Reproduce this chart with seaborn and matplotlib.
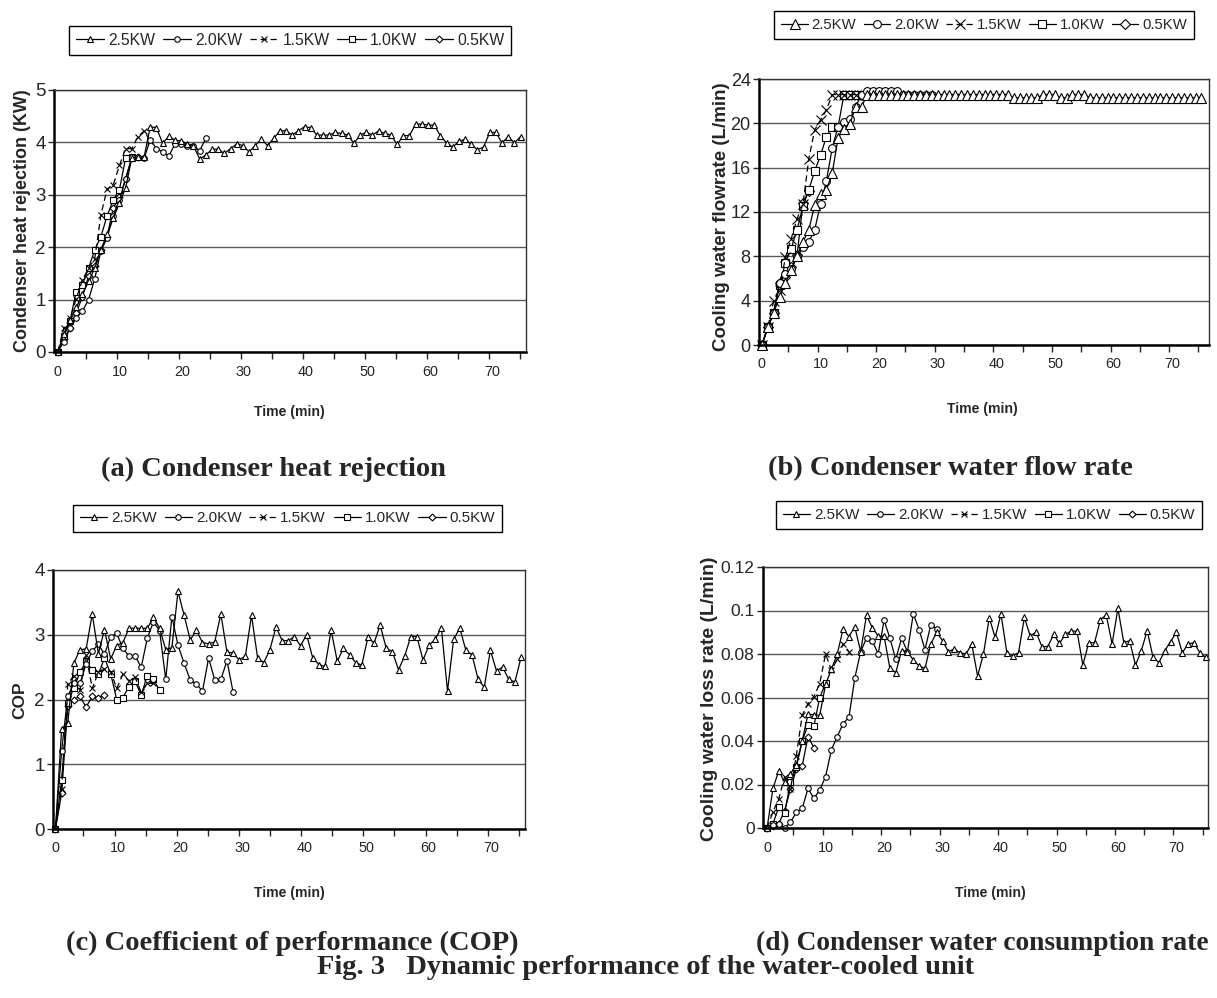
import numpy as np
import pandas as pd
import matplotlib
matplotlib.use("Agg")
import matplotlib.pyplot as plt
import seaborn as sns
from matplotlib import font_manager as fm

# ---------------- data ----------------
series_labels = ["2.5KW", "2.0KW", "1.5KW", "1.0KW", "0.5KW"]

# sampling interval (min) of each panel's records
dt_heat, dt_flow, dt_cop, dt_loss = 0.995, 1.0, 0.985, 1.0

# (a) condenser heat rejection (KW)
heat_25 = [0, 0.35, 0.62, 0.85, 1.10, 1.35, 1.60, 1.95, 2.25, 2.55, 2.84, 3.13, 3.70, 3.72, 3.72,
           4.30, 4.28, 3.98, 4.12, 4.04, 4.03, 3.97, 3.94, 3.68, 3.76, 3.87, 3.87, 3.79, 3.88, 3.97,
           3.94, 3.82, 3.94, 4.06, 3.94, 4.08, 4.22, 4.22, 4.14, 4.22, 4.30, 4.28, 4.14, 4.14, 4.14,
           4.19, 4.17, 4.14, 3.98, 4.14, 4.19, 4.14, 4.22, 4.17, 4.14, 3.96,
           4.13, 4.13, 4.35, 4.35, 4.33, 4.33, 4.13, 3.99, 3.91, 4.02, 4.06, 3.96, 3.86, 3.91,
           4.19, 4.19, 3.99, 4.11, 3.99, 4.11]
heat_20 = [0, 0.20, 0.45, 0.65, 0.78, 1.00, 1.40, 1.93, 2.18, 2.60, 2.90, 3.30, 3.72, 3.72, 3.70,
           4.05, 3.88, 3.82, 3.74, 3.97, 3.97, 3.94, 3.94, 3.84, 4.08]
heat_15 = [0, 0.46, 0.64, 1.02, 1.37, 1.60, 1.78, 2.62, 3.11, 3.19, 3.56, 3.88, 3.88, 4.11, 4.22, 4.02]
heat_10 = [0, 0.30, 0.60, 1.15, 1.28, 1.60, 1.95, 2.20, 2.60, 2.90, 3.10, 3.70, 3.72]
heat_05 = [0, 0.25, 0.45, 0.75, 1.05, 1.45, 1.65, 1.95, 2.20, 2.75, 2.95, 3.30, 3.70, 3.72]

# (b) cooling water flow rate (L/min)
flow_25 = [0, 1.6, 2.9, 4.3, 5.6, 6.8, 8.0, 9.3, 10.4, 12.6, 13.6, 14.0, 15.5, 18.7, 19.5, 19.9, 21.5, 21.5,
           22.6, 22.6, 22.6, 22.6, 22.6, 22.6, 22.6, 22.6, 22.6, 22.6, 22.6, 22.6, 22.6, 22.6, 22.6,
           22.6, 22.6, 22.6, 22.6, 22.6, 22.6, 22.6, 22.6, 22.6, 22.6,
           22.3, 22.3, 22.3, 22.3, 22.3, 22.6, 22.6, 22.6, 22.3, 22.3, 22.6, 22.6, 22.6,
           22.3, 22.3, 22.3, 22.3, 22.3, 22.3, 22.3, 22.3, 22.3, 22.3, 22.3, 22.3, 22.3, 22.3,
           22.3, 22.3, 22.3, 22.3, 22.3, 22.3]
flow_20 = [0, 1.6, 2.9, 5.6, 6.4, 6.9, 7.9, 8.8, 9.3, 10.4, 12.7, 14.8, 17.8, 19.7, 20.1, 20.4, 21.5,
           22.6, 22.9, 22.9, 22.9, 22.9, 22.9, 22.9, 22.6, 22.6, 22.6, 22.6, 22.6, 22.6]
flow_15 = [0, 1.6, 3.95, 5.0, 7.9, 9.6, 11.4, 12.7, 16.8, 19.4, 20.3, 21.2, 22.6, 22.6, 22.6, 22.6, 22.6, 22.6]
flow_10 = [0, 1.6, 2.9, 5.4, 7.4, 8.7, 10.4, 12.5, 14.0, 15.7, 17.1, 18.8, 19.7, 19.7, 22.6, 22.6, 22.6, 22.6]
flow_05 = [0, 1.6, 2.9, 5.6, 6.1, 7.0, 8.1, 12.8, 13.9]

# (c) coefficient of performance
cop_25 = [0, 1.55, 1.63, 2.56, 2.77, 2.78, 3.32, 2.71, 3.08, 2.63, 2.83, 2.88, 3.10, 3.10, 3.10, 3.10,
          3.27, 3.10, 2.77, 2.80,
          3.67, 3.30, 2.92, 3.07, 2.88, 2.86, 2.89, 3.32, 2.73, 2.72, 2.61, 2.67, 3.30, 2.64, 2.57,
          2.77, 3.12, 2.91, 2.91, 2.97, 2.83, 3.00, 2.64, 2.54, 2.51, 3.07, 2.59, 2.79, 2.69, 2.57,
          2.53, 2.96, 2.87, 3.15, 2.79, 2.74, 2.46,
          2.67, 2.97, 2.97, 2.61, 2.84, 2.93, 3.11, 2.13, 2.93, 3.10, 2.76, 2.69, 2.31, 2.19, 2.76,
          2.44, 2.50, 2.31, 2.27, 2.65]
cop_20 = [0, 1.21, 2.05, 2.25, 2.25, 2.55, 2.75, 2.85, 2.70, 2.97, 3.02, 2.79, 2.67, 2.67, 2.50, 2.95,
          3.20, 3.06, 2.31, 3.28, 2.84, 2.56, 2.30, 2.24, 2.13, 2.64, 2.30, 2.31, 2.60, 2.11]
cop_15 = [0, 0.62, 2.24, 2.37, 2.15, 2.69, 2.17, 2.42, 2.47, 2.43, 2.17, 2.39, 2.29, 2.34, 2.11, 2.25, 2.25]
cop_10 = [0, 0.76, 1.95, 2.18, 2.42, 2.59, 2.45, 2.39, 2.64, 2.40, 2.00, 2.03, 2.20, 2.28, 2.07, 2.37, 2.31, 2.14]
cop_05 = [0, 0.55, 1.90, 2.00, 2.05, 1.88, 2.05, 2.02, 2.07]

# (d) cooling water loss rate (L/min)
loss_25 = [0, 0.0182, 0.0263, 0.021, 0.025, 0.029, 0.040, 0.0524, 0.052, 0.0518, 0.066, 0.073, 0.080,
           0.0915, 0.088, 0.0925, 0.0811, 0.0979, 0.092, 0.0883, 0.0883, 0.0734, 0.0714, 0.0815,
           0.0811, 0.0772, 0.0745, 0.0734, 0.0846, 0.090, 0.0861, 0.0811, 0.0823, 0.0806, 0.080,
           0.0846, 0.0699, 0.080, 0.0967, 0.0876, 0.0984, 0.0806, 0.0792, 0.0806, 0.0968, 0.0883,
           0.090, 0.0834, 0.0834, 0.089, 0.0849, 0.089, 0.0905, 0.0905, 0.0749, 0.0852, 0.0852,
           0.0958, 0.0979, 0.0846, 0.101, 0.0852, 0.0861, 0.0749, 0.0815, 0.0908, 0.0785, 0.076,
           0.0815, 0.0857, 0.090, 0.0806, 0.0846, 0.0852, 0.0806, 0.0785]
loss_20 = [0, 0.0015, 0.002, 0.0, 0.0026, 0.0073, 0.009, 0.0182, 0.0136, 0.0175, 0.0236, 0.036, 0.042,
           0.048, 0.051, 0.069, 0.081, 0.0873, 0.086, 0.080, 0.0955, 0.0873, 0.0775, 0.0873, 0.081,
           0.0985, 0.0912, 0.082, 0.0935, 0.0915]
loss_15 = [0, 0.0074, 0.0135, 0.0234, 0.018, 0.0333, 0.0518, 0.0572, 0.0604, 0.0664, 0.080, 0.0726,
           0.0775, 0.0846, 0.0811]
loss_10 = [0, 0.002, 0.0097, 0.007, 0.021, 0.028, 0.040, 0.0475, 0.0468, 0.060, 0.0665]
loss_05 = [0, 0.001, 0.002, 0.008, 0.018, 0.027, 0.0285, 0.042, 0.037]

heat_yticks = [0, 1, 2, 3, 4, 5]
flow_yticks = [0, 4, 8, 12, 16, 20, 24]
cop_yticks = [0, 1, 2, 3, 4]
loss_yticks = [0, 0.02, 0.04, 0.06, 0.08, 0.1, 0.12]
loss_yticklabels = ["0", "0.02", "0.04", "0.06", "0.08", "0.1", "0.12"]
xtick_labels = [0, 10, 20, 30, 40, 50, 60, 70]

# ---------------- style ----------------
sns.set_style("white")


def has_font(name):
    try:
        fm.findfont(fm.FontProperties(family=name), fallback_to_default=False)
        return True
    except Exception:
        return False


NARROW = "Liberation Sans Narrow" if has_font("Liberation Sans Narrow") else "Liberation Sans"
NS = 1.0 if NARROW == "Liberation Sans Narrow" else 0.9
SANS = "Liberation Sans"
SERIF = "Liberation Serif"
plt.rcParams["font.family"] = [NARROW, "DejaVu Sans"]

W, H = 1217, 998
fig = plt.figure(figsize=(W / 100, H / 100), dpi=100)


def rect(x0, y0, x1, y1):
    return [x0 / W, 1 - y1 / H, (x1 - x0) / W, (y1 - y0) / H]


STY = {
    "2.5KW": dict(marker="^", mfc="white", ls="-", ms=1.0),
    "2.0KW": dict(marker="o", mfc="white", ls="-", ms=0.8),
    "1.5KW": dict(marker="x", mfc="black", ls="--", ms=1.0),
    "1.0KW": dict(marker="s", mfc="white", ls="-", ms=0.85),
    "0.5KW": dict(marker="D", mfc="white", ls="-", ms=0.7),
}


def draw_panel(ax, series, dt, ms, yticks, ytl, ylim, xlim, leg_center, leg_fs, ytick_fs):
    for lab, vals in reversed(list(zip(series_labels, series))):
        df = pd.DataFrame({"Time": np.arange(len(vals)) * dt, "Value": vals})
        st = STY[lab]
        sns.lineplot(data=df, x="Time", y="Value", ax=ax, color="black", linewidth=0.9,
                     marker=st["marker"], markersize=ms * st["ms"], markerfacecolor=st["mfc"],
                     markeredgecolor="black", markeredgewidth=0.8, label=lab,
                     sort=False, estimator=None, errorbar=None)
        line = ax.lines[-1]
        if st["ls"] == "--":
            line.set_dashes([5, 3])
        line.set_clip_on(False)
    ax.set_xlim(*xlim)
    ax.set_ylim(*ylim)
    ax.set_xticks(xtick_labels)
    ax.set_xticks(np.arange(4.5, 75, 5), minor=True)
    ax.set_xticklabels([str(v) for v in xtick_labels])
    ax.tick_params(axis="x", which="major", length=0, pad=9, labelsize=11.5 * NS)
    ax.tick_params(axis="x", which="minor", length=5, width=1.0, direction="out", bottom=True)
    ax.set_yticks(yticks)
    ax.set_yticklabels(ytl)
    ax.tick_params(axis="y", length=4, width=1.0, direction="out", pad=2, labelsize=ytick_fs * NS,
                   left=True)
    ax.yaxis.grid(True, color="#5a5a5a", linewidth=1.0)
    ax.xaxis.grid(False)
    ax.set_axisbelow(True)
    ax.set_xlabel("")
    ax.set_ylabel("")
    for s in ["left", "bottom"]:
        ax.spines[s].set_linewidth(1.8)
        ax.spines[s].set_color("black")
    for s in ["top", "right"]:
        ax.spines[s].set_linewidth(1.0)
        ax.spines[s].set_color("#333333")
    h, l = ax.get_legend_handles_labels()
    order = [l.index(s) for s in series_labels]
    leg = ax.legend([h[i] for i in order], [l[i] for i in order], ncol=5, loc="center",
                    bbox_to_anchor=(leg_center[0] / W, 1 - leg_center[1] / H),
                    bbox_transform=fig.transFigure, frameon=True, fancybox=False,
                    edgecolor="black", framealpha=1, fontsize=leg_fs * NS, handlelength=1.8,
                    handletextpad=0.25, columnspacing=0.5, borderpad=0.45, numpoints=1)
    leg.get_frame().set_linewidth(1.0)


ax_a = fig.add_axes(rect(54, 90, 526, 352))
draw_panel(ax_a, [heat_25, heat_20, heat_15, heat_10, heat_05], dt_heat, 5.0,
           heat_yticks, [str(v) for v in heat_yticks], (0, 5), (-0.6, 75.5), (290, 40.5), 12.6, 15)

ax_b = fig.add_axes(rect(759, 79, 1209, 345))
draw_panel(ax_b, [flow_25, flow_20, flow_15, flow_10, flow_05], dt_flow, 7.0,
           flow_yticks, [str(v) for v in flow_yticks], (0, 24), (-0.5, 76.3), (984, 25), 11.9, 14.5)

ax_c = fig.add_axes(rect(53, 570, 525, 829))
draw_panel(ax_c, [cop_25, cop_20, cop_15, cop_10, cop_05], dt_cop, 5.0,
           cop_yticks, [str(v) for v in cop_yticks], (0, 4), (-0.4, 75.5), (287.5, 518.5), 12.2, 15)

ax_d = fig.add_axes(rect(763, 567, 1208, 828))
draw_panel(ax_d, [loss_25, loss_20, loss_15, loss_10, loss_05], dt_loss, 5.0,
           loss_yticks, loss_yticklabels, (0, 0.12), (-0.7, 75.4), (989, 515), 12.1, 14)

# axis titles
lab_kw = dict(fontfamily=[SANS, "DejaVu Sans"], fontweight="bold", ha="center", va="center")
fig.text(23 / W, 1 - 221 / H, "Condenser heat rejection (KW)", rotation=90, fontsize=13, **lab_kw)
fig.text(721 / W, 1 - 217 / H, "Cooling water flowrate (L/min)", rotation=90, fontsize=13.5, **lab_kw)
fig.text(20 / W, 1 - 700 / H, "COP", rotation=90, fontsize=12.5, **lab_kw)
fig.text(710 / W, 1 - 699 / H, "Cooling water loss rate (L/min)", rotation=90, fontsize=14, **lab_kw)

tk = dict(fontfamily=[NARROW, "DejaVu Sans"], fontweight="bold", ha="center", va="center",
          fontsize=12 * 0.84)
fig.text(289 / W, 1 - 412 / H, "Time (min)", **tk)
fig.text(982 / W, 1 - 409 / H, "Time (min)", **tk)
fig.text(289 / W, 1 - 893 / H, "Time (min)", **tk)
fig.text(990 / W, 1 - 893 / H, "Time (min)", **tk)

# captions
cap = dict(fontfamily=[SERIF, "DejaVu Serif"], fontweight="bold", va="center", fontsize=20.5)
fig.text(273 / W, 1 - 469 / H, "(a) Condenser heat rejection", ha="center", **cap)
fig.text(950 / W, 1 - 469 / H, "(b) Condenser water flow rate", ha="center", **cap)
fig.text(292 / W, 1 - 943 / H, "(c) Coefficient of performance (COP)", ha="center", **cap)
cap_d = dict(cap)
cap_d["fontsize"] = 19.8
fig.text(756 / W, 1 - 943 / H, "(d) Condenser water consumption rate", ha="left", **cap_d)
fig.text(646 / W, 1 - 967 / H, "Fig. 3   Dynamic performance of the water-cooled unit", ha="center", **cap)

fig.savefig("out.png", dpi=100)
